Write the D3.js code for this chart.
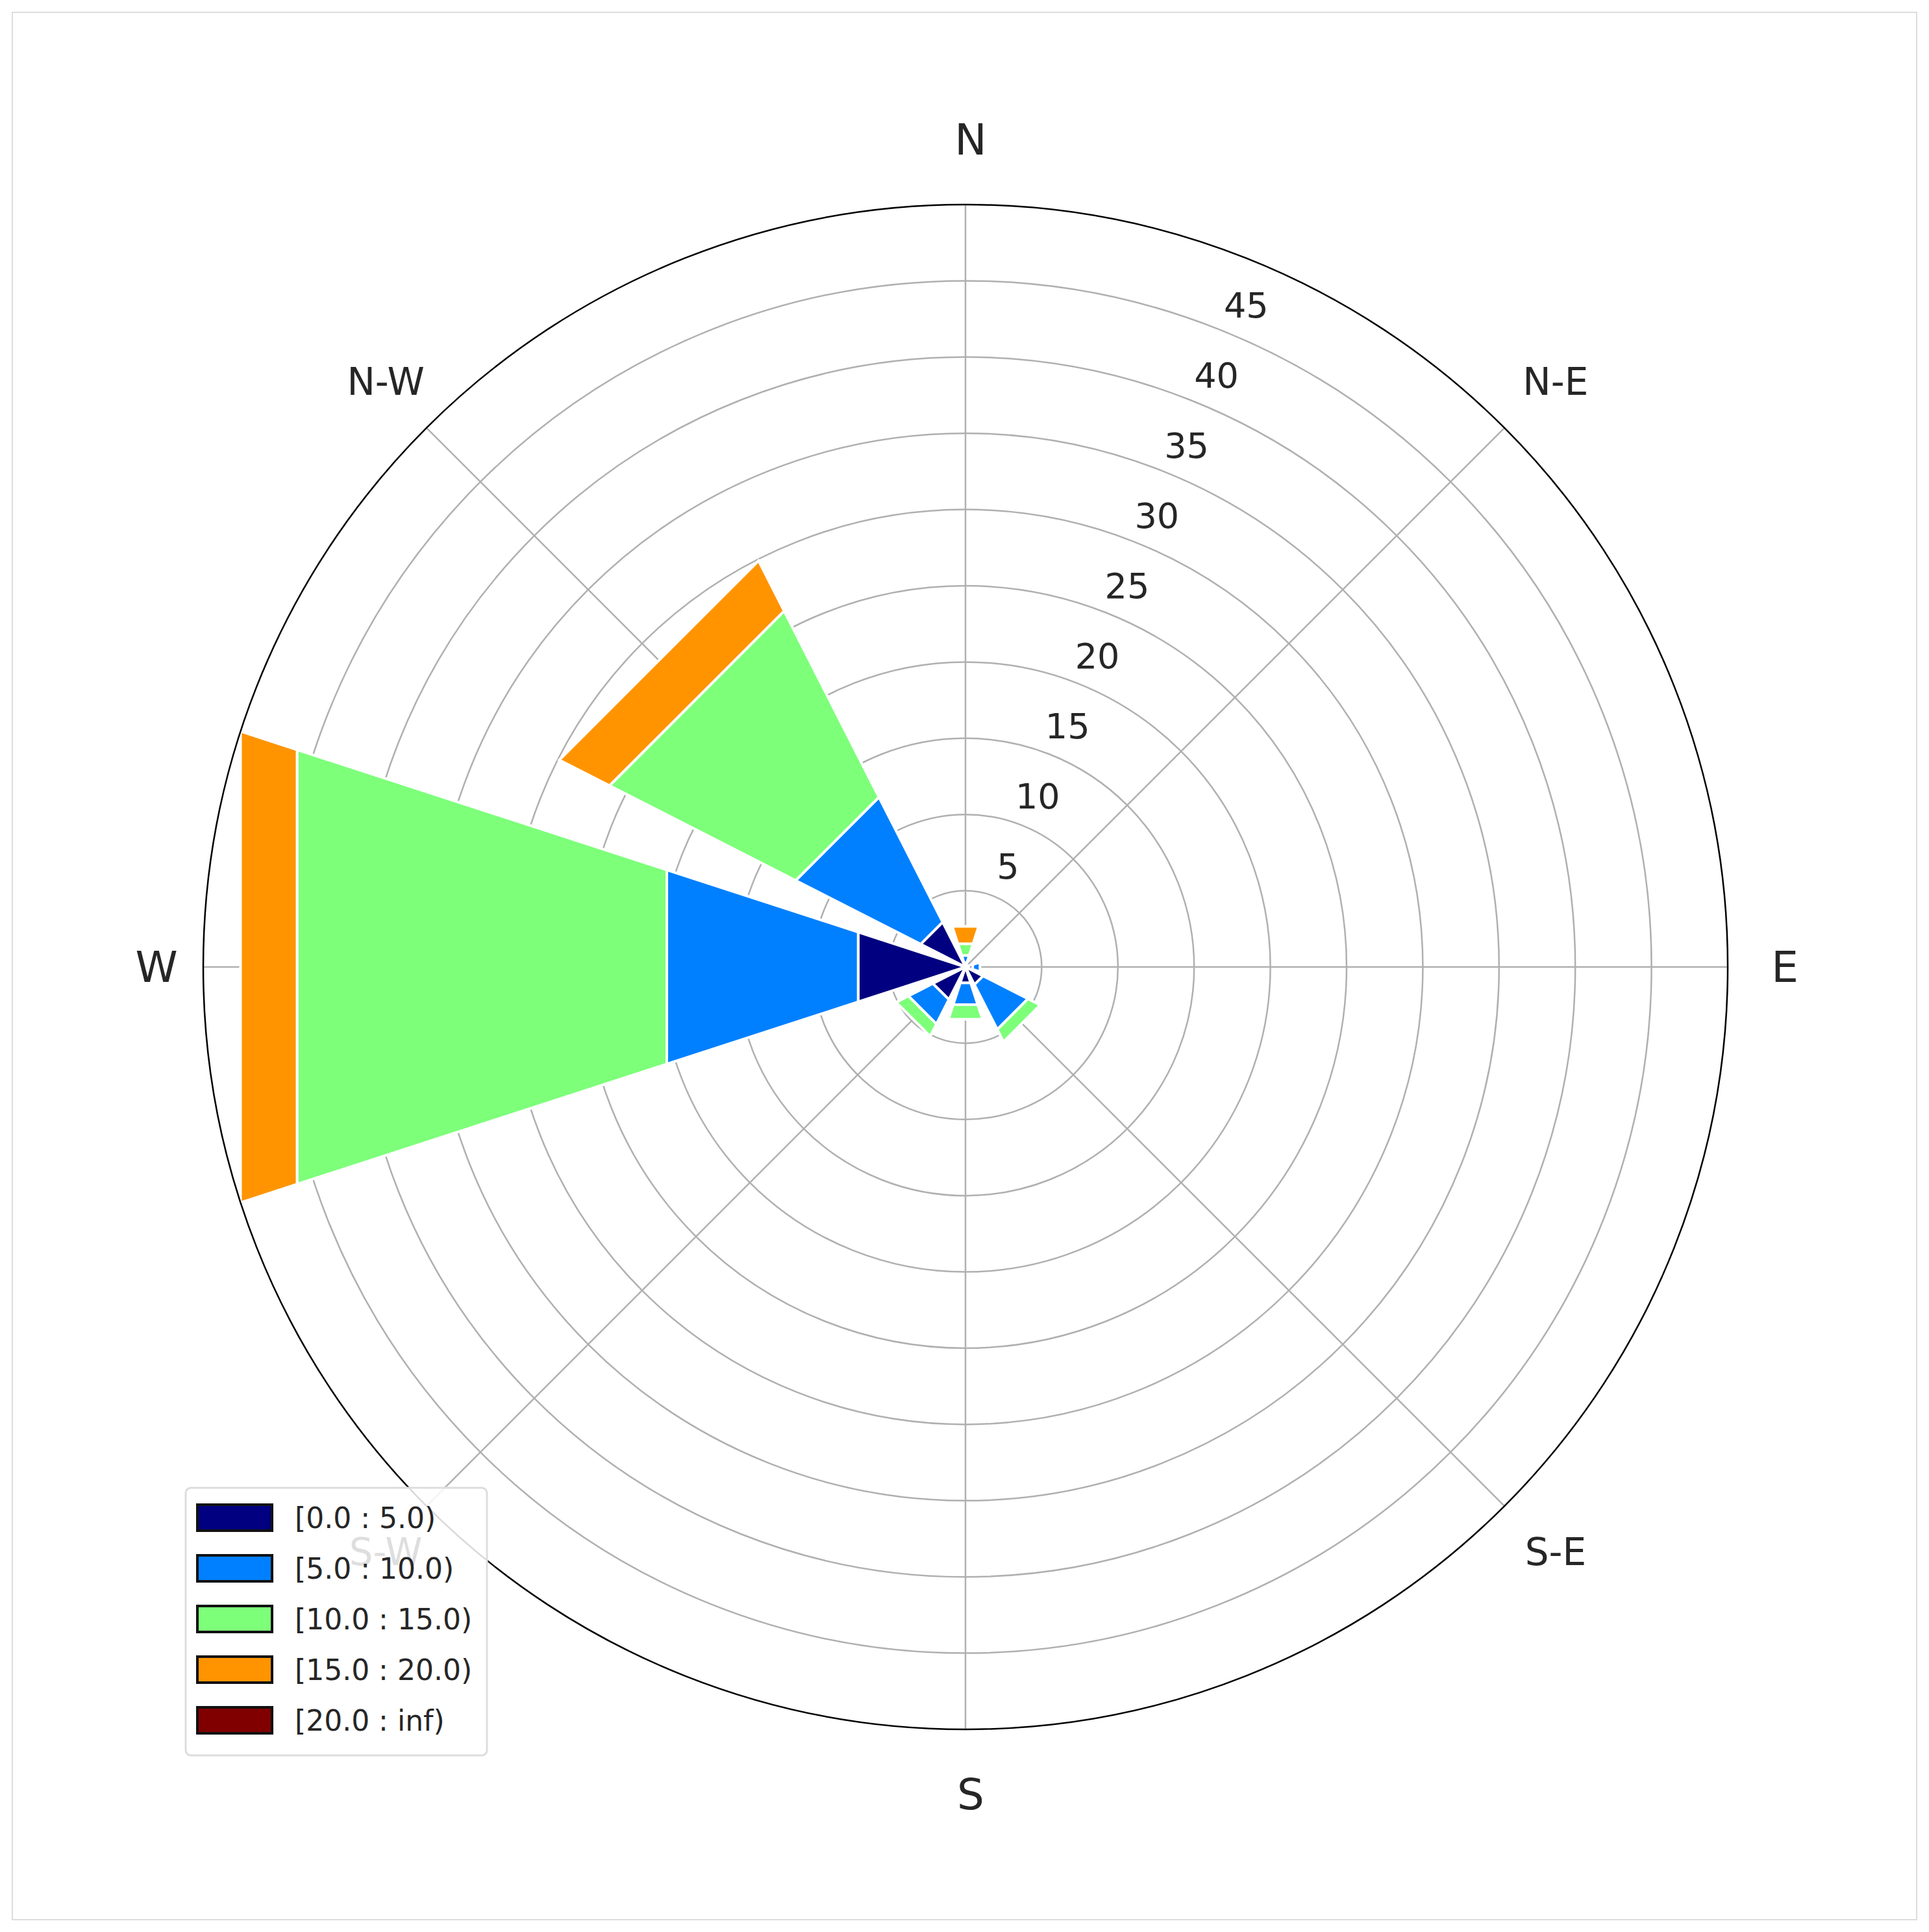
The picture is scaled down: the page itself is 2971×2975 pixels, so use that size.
<!DOCTYPE html>
<html><head><meta charset="utf-8">
<script src="https://cdn.jsdelivr.net/npm/d3@7"></script>
<style>body{margin:0;background:#fff}</style>
</head><body><div id="rose"></div>
<script>
// wind directions (clockwise from north) and frequency per speed bin (%)
const dirs = ["N", "N-E", "E", "S-E", "S", "S-W", "W", "N-W"];
const bins = ["[0.0 : 5.0)", "[5.0 : 10.0)", "[10.0 : 15.0)", "[15.0 : 20.0)", "[20.0 : inf)"];
const colors = ["#000080", "#0080ff", "#7dff7a", "#ff9400", "#800000"];
const s0 = [0.3, 0, 0.5, 1.3, 1.1, 2.4, 7.4, 3.3];
const s1 = [0.5, 0, 0.5, 3.3, 1.5, 1.8, 13.2, 9.2];
const s2 = [0.8, 0, 0, 0.9, 1.0, 0.9, 25.5, 13.7];
const s3 = [1.2, 0, 0, 0, 0, 0, 3.9, 3.7];
const s4 = [0, 0, 0, 0, 0, 0, 0, 0];
const ticks = [5, 10, 15, 20, 25, 30, 35, 40, 45];

const W = 2971, H = 2975, cx = 1487, cy = 1489;
const svg = d3.select("#rose").append("svg").attr("width", W).attr("height", H)
  .style("font-family", "DejaVu Sans");

svg.append("rect").attr("x", 19).attr("y", 19).attr("width", W - 38).attr("height", H - 38)
  .attr("fill", "none").attr("stroke", "#ddd").attr("stroke-width", 2);

const r = d3.scaleLinear().domain([0, 50]).range([0, 1174]);
const g = svg.append("g").attr("transform", `translate(${cx},${cy})`);
const ang = d3.scalePoint().domain(dirs).range([0, 315]);
const rad = a => a * Math.PI / 180;
const pt = (rr, a) => [rr * Math.sin(a), -rr * Math.cos(a)];

// grid
g.selectAll(".ring").data(ticks).enter().append("circle")
  .attr("r", d => r(d)).attr("fill", "none").attr("stroke", "#b0b0b0").attr("stroke-width", 2.5);
dirs.forEach(d => {
  const a = rad(ang(d));
  const [x2, y2] = pt(r(50), a);
  g.append("line").attr("x1", 0).attr("y1", 0).attr("x2", x2).attr("y2", y2)
    .attr("stroke", "#b0b0b0").attr("stroke-width", 2.5);
});

// stacked bars (straight-edged wedges)
const series = [s0, s1, s2, s3, s4];
const half = rad(18);
const poly = d3.line();
dirs.forEach((d, i) => {
  let base = 0;
  series.forEach((s, k) => {
    const v = s[i];
    if (v > 0) {
      const a = rad(ang(d));
      const pts = [pt(r(base), a - half), pt(r(base + v), a - half),
                   pt(r(base + v), a + half), pt(r(base), a + half)];
      g.append("path").attr("d", poly(pts) + "Z")
        .attr("fill", colors[k]).attr("stroke", "#fff").attr("stroke-width", 4);
    }
    base += v;
  });
});

g.append("circle").attr("r", r(50)).attr("fill", "none").attr("stroke", "#000").attr("stroke-width", 2.5);

// radial tick labels
const ta = rad(23);
ticks.forEach(t => {
  const [x, y] = pt(r(t) + 50, ta);
  g.append("text").attr("x", x).attr("y", y)
    .attr("text-anchor", "middle").attr("dominant-baseline", "central")
    .attr("font-size", 54).attr("fill", "#262626").text(t);
});

// direction labels
dirs.forEach(d => {
  const [x, y] = pt(r(50) + (d === "E" || d === "W" ? 80 : 100), rad(ang(d)));
  g.append("text").attr("x", x + 8).attr("y", y)
    .attr("text-anchor", "middle").attr("dominant-baseline", "central")
    .attr("font-size", d.length > 1 ? 58 : 66).attr("fill", "#262626").text(d);
});

// legend
const lg = svg.append("g").attr("transform", "translate(286,2291)");
lg.append("rect").attr("width", 464).attr("height", 412).attr("rx", 8)
  .attr("fill", "#fff").attr("fill-opacity", 0.85).attr("stroke", "#ddd").attr("stroke-width", 3);
bins.forEach((b, i) => {
  lg.append("rect").attr("x", 18).attr("y", 26 + i * 78).attr("width", 115).attr("height", 40)
    .attr("fill", colors[i]).attr("stroke", "#111").attr("stroke-width", 4);
  lg.append("text").attr("x", 168).attr("y", 46 + i * 78).attr("dominant-baseline", "central")
    .attr("font-size", 44).attr("fill", "#262626").text(b);
});
</script></body></html>
